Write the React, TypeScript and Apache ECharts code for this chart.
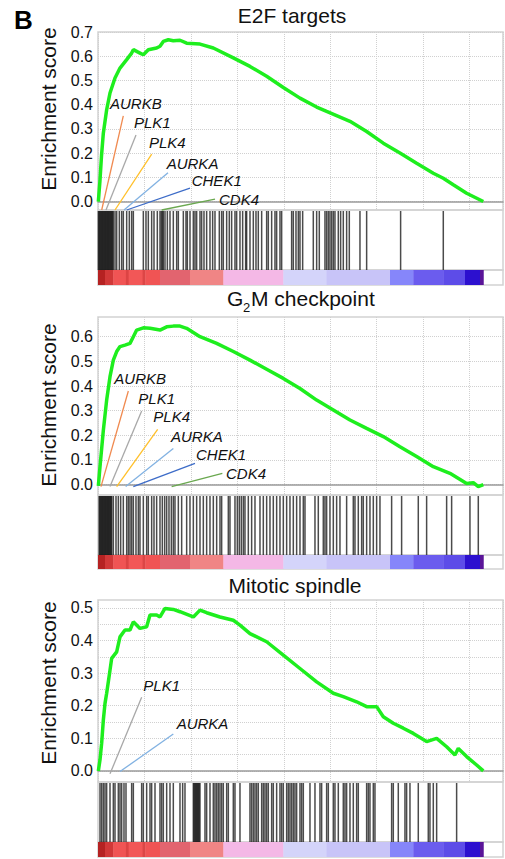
import React, { useEffect, useRef } from 'react';
import * as echarts from 'echarts';

const FONT = '"Liberation Sans", Arial, Helvetica, sans-serif';
const X_MAX = 21800;
const GREEN = '#1eee1e';

// ---------- Panel 1: E2F targets ----------
const e2fRank = [18, 100, 190, 287, 466, 646, 915, 1184, 1543, 1812, 1902, 2260, 2440, 2709, 3157, 3337, 3516, 3785, 4054, 4413, 4772, 5490, 6207, 7284, 8181, 9078, 9975, 10872, 11769, 12307, 13563, 14460, 15357, 16253, 17151, 18048, 18586, 19124, 19842, 20740];
const e2fES = [0, 0.08, 0.19, 0.282, 0.379, 0.448, 0.51, 0.551, 0.586, 0.613, 0.627, 0.613, 0.606, 0.627, 0.634, 0.641, 0.661, 0.668, 0.664, 0.666, 0.654, 0.65, 0.634, 0.593, 0.558, 0.517, 0.471, 0.427, 0.39, 0.372, 0.331, 0.289, 0.241, 0.2, 0.158, 0.117, 0.096, 0.069, 0.034, 0];
const e2fHits = [20, 60, 100, 140, 180, 220, 260, 300, 340, 380, 420, 460, 500, 540, 580, 620, 660, 700, 740, 780, 820, 915, 1005, 1148, 1274, 1364, 1543, 1686, 1812, 1902, 2440, 2583, 2709, 2888, 3014, 3193, 3337, 3408, 3470, 3516, 3606, 3732, 3875, 4054, 4234, 4324, 4593, 4736, 4808, 4952, 5131, 5221, 5310, 5490, 5579, 5705, 5848, 6028, 6171, 6297, 6530, 6656, 6745, 6925, 7068, 7194, 7373, 7463, 7642, 7786, 7947, 8001, 8181, 8360, 8504, 8629, 8809, 9078, 9168, 9347, 9526, 9616, 9795, 9885, 10423, 10513, 10657, 10783, 10872, 11016, 11589, 11769, 11912, 12217, 12307, 12397, 12486, 12576, 12666, 12755, 12935, 13060, 13204, 13383, 13527, 14101, 14460, 16289, 18586];
const e2fGenes = ['AURKB', 'PLK1', 'PLK4', 'AURKA', 'CHEK1', 'CDK4'];
const e2fGeneStart = [199, 431, 915, 1400, 1545, 3429];
const e2fGeneStartES = [-0.035, -0.035, -0.035, -0.035, -0.035, -0.035];
const e2fGeneEnd = [1362, 2046, 2891, 3768, 4952, 6298];
const e2fGeneEndES = [0.354, 0.275, 0.196, 0.119, 0.055, 0.01];
const e2fLabelRank = [646, 1938, 2745, 3698, 5044, 6513];
const e2fLabelES = [0.405, 0.326, 0.243, 0.159, 0.088, 0.01];

// ---------- Panel 2: G2M checkpoint ----------
const g2mRank = [18, 108, 287, 466, 646, 825, 1005, 1184, 1453, 1722, 1902, 2081, 2440, 2799, 3337, 3696, 4054, 4413, 4772, 5490, 6387, 7284, 8181, 9078, 9975, 10872, 11769, 12666, 13563, 14460, 15357, 16253, 17151, 18048, 18945, 19842, 20201, 20470, 20740];
const g2mES = [-0.005, 0.073, 0.22, 0.343, 0.438, 0.505, 0.54, 0.56, 0.566, 0.573, 0.6, 0.627, 0.636, 0.634, 0.627, 0.64, 0.643, 0.643, 0.634, 0.6, 0.573, 0.54, 0.505, 0.468, 0.431, 0.39, 0.343, 0.303, 0.262, 0.228, 0.195, 0.154, 0.114, 0.073, 0.046, 0.005, 0.008, -0.008, 0];
const g2mHits = [60, 100, 140, 180, 220, 260, 300, 340, 380, 420, 460, 500, 540, 580, 620, 660, 700, 740, 825, 969, 1094, 1220, 1363, 1543, 1633, 1722, 1812, 1902, 2045, 2171, 2260, 2440, 2619, 2709, 2888, 3014, 3157, 3337, 3462, 3588, 3696, 3821, 3947, 4054, 4144, 4324, 4503, 4772, 4951, 5131, 5310, 5490, 5669, 5848, 6028, 6207, 6387, 6566, 6656, 7015, 7104, 7373, 7499, 7606, 7714, 7822, 7911, 8091, 8270, 8450, 8719, 8898, 9078, 9257, 9436, 9616, 9795, 9975, 10154, 10333, 10513, 10692, 10872, 11051, 11141, 11679, 11858, 12127, 12217, 12307, 12486, 12666, 12845, 13024, 13383, 13742, 13832, 14011, 14191, 14280, 14460, 14639, 14819, 14998, 15177, 15805, 16343, 17240, 17689, 18766, 19035, 20021, 20470];
const g2mGenes = ['AURKB', 'PLK1', 'PLK4', 'AURKA', 'CHEK1', 'CDK4'];
const g2mGeneStart = [161, 646, 1005, 1489, 1902, 3965];
const g2mGeneStartES = [-0.008, -0.008, -0.008, -0.008, -0.008, -0.008];
const g2mGeneEnd = [1633, 2350, 3211, 4054, 5221, 6692];
const g2mGeneEndES = [0.38, 0.299, 0.224, 0.147, 0.086, 0.046];
const g2mLabelRank = [879, 2171, 2978, 3929, 5274, 6889];
const g2mLabelES = [0.431, 0.35, 0.276, 0.195, 0.123, 0.046];

// ---------- Panel 3: Mitotic spindle ----------
const mitRank = [18, 108, 197, 287, 377, 466, 646, 735, 1005, 1184, 1453, 1722, 1902, 2260, 2619, 2799, 3157, 3337, 3606, 4054, 4413, 5131, 5490, 5848, 6566, 7284, 7642, 8181, 9078, 9975, 10872, 11769, 12666, 13204, 13921, 14460, 14998, 15357, 15895, 16433, 16972, 17689, 18228, 18766, 19214, 19394, 19842, 20380, 20740];
const mitES = [0, 0.034, 0.085, 0.156, 0.207, 0.238, 0.309, 0.345, 0.365, 0.411, 0.432, 0.432, 0.457, 0.437, 0.442, 0.478, 0.478, 0.472, 0.498, 0.495, 0.488, 0.472, 0.493, 0.485, 0.472, 0.462, 0.447, 0.421, 0.396, 0.355, 0.314, 0.273, 0.238, 0.228, 0.212, 0.197, 0.197, 0.166, 0.146, 0.131, 0.115, 0.09, 0.1, 0.074, 0.049, 0.069, 0.044, 0.018, 0];
const mitHits = [108, 197, 287, 377, 466, 646, 825, 915, 1094, 1184, 1274, 1399, 1507, 1812, 1902, 2350, 2440, 2619, 2799, 2888, 3068, 3337, 3426, 3516, 3696, 3875, 4054, 4413, 4557, 4682, 5131, 5176, 5221, 5265, 5310, 5355, 5400, 5445, 5490, 5759, 5848, 6028, 6207, 6297, 6387, 6476, 6566, 6656, 6745, 6925, 7015, 7284, 7373, 7642, 8181, 8270, 8360, 8450, 8539, 8629, 8809, 8898, 8988, 9078, 9167, 9347, 9436, 9616, 9795, 9885, 9975, 10154, 10243, 10333, 10423, 10513, 10602, 10692, 10872, 10961, 11051, 11410, 11679, 11948, 12038, 12307, 12397, 12666, 12755, 12935, 13204, 13294, 13383, 13563, 13742, 13921, 14011, 14460, 14549, 14639, 14819, 14908, 15805, 15895, 16164, 16523, 16612, 16792, 17240, 17778, 17868, 18048, 18228, 19304];
const mitGenes = ['PLK1', 'AURKA'];
const mitGeneStart = [646, 1184];
const mitGeneStartES = [-0.009, -0.002];
const mitGeneEnd = [2350, 4054];
const mitGeneEndES = [0.226, 0.113];
const mitLabelRank = [2440, 4234];
const mitLabelES = [0.263, 0.144];

// ---------- Ranked-list metric colour bar (shared) ----------
const bandStart = [0, 377, 825, 1500, 1650, 2400, 2550, 3337, 4952, 6747, 9975, 12307, 15718, 16974, 18589, 19756, 20563];
const bandEnd = [377, 825, 1500, 1650, 2400, 2550, 3337, 4952, 6747, 9975, 12307, 15718, 16974, 18589, 19756, 20563, 20742];
const bandColor = ['#b52222', '#d13838', '#f05454', '#dc4444', '#f25757', '#dc4646', '#f05454', '#e2646f', '#f08585', '#f4b8e6', '#d4d4fa', '#c8c4f8', '#8686fa', '#6b5cee', '#5d4ce8', '#2c10cf', '#5a1598'];

const geneColor: Record<string, string> = {
  AURKB: '#f08a50',
  PLK1: '#a8a8a8',
  PLK4: '#ffc02a',
  AURKA: '#82b2e2',
  CHEK1: '#3d6cc8',
  CDK4: '#6aa84f',
};

const e2fTicks = [0, 0.1, 0.2, 0.3, 0.4, 0.5, 0.6, 0.7];
const g2mTicks = [0, 0.1, 0.2, 0.3, 0.4, 0.5, 0.6];
const mitTicks = [0, 0.1, 0.2, 0.3, 0.4, 0.5];
const mitGridTicks = [0, 0.05, 0.1, 0.15, 0.2, 0.25, 0.3, 0.35, 0.4, 0.45, 0.5];

const panels = [
  {
    rank: e2fRank, es: e2fES, hits: e2fHits,
    genes: e2fGenes, gs: e2fGeneStart, gse: e2fGeneStartES, ge: e2fGeneEnd, gee: e2fGeneEndES, lr: e2fLabelRank, le: e2fLabelES,
    labelTicks: e2fTicks, gridTicks: e2fTicks, yMin: -0.035, yMax: 0.7,
    curveTop: 32, curveH: 178, barTop: 210, barH: 60, colTop: 270, colH: 15,
  },
  {
    rank: g2mRank, es: g2mES, hits: g2mHits,
    genes: g2mGenes, gs: g2mGeneStart, gse: g2mGeneStartES, ge: g2mGeneEnd, gee: g2mGeneEndES, lr: g2mLabelRank, le: g2mLabelES,
    labelTicks: g2mTicks, gridTicks: g2mTicks, yMin: -0.042, yMax: 0.68,
    curveTop: 317, curveH: 178, barTop: 495, barH: 60, colTop: 555, colH: 14,
  },
  {
    rank: mitRank, es: mitES, hits: mitHits,
    genes: mitGenes, gs: mitGeneStart, gse: mitGeneStartES, ge: mitGeneEnd, gee: mitGeneEndES, lr: mitLabelRank, le: mitLabelES,
    labelTicks: mitTicks, gridTicks: mitGridTicks, yMin: -0.034, yMax: 0.524,
    curveTop: 600, curveH: 182, barTop: 782, barH: 60, colTop: 842, colH: 15,
  },
];

function buildOption() {
  const grid: any[] = [];
  const xAxis: any[] = [];
  const yAxis: any[] = [];
  const series: any[] = [];
  const LEFT = 98;
  const WIDTH = 405;
  const frame = { show: true, borderColor: '#d2d2d2', borderWidth: 1.5, backgroundColor: 'transparent' };
  const gridLine = { show: true, lineStyle: { color: '#d0d0d0', type: 'dotted', width: 1 } };

  panels.forEach((P, p) => {
    const g = p * 3;
    grid.push({ left: LEFT, top: P.curveTop, width: WIDTH, height: P.curveH, ...frame });
    grid.push({ left: LEFT, top: P.barTop, width: WIDTH, height: P.barH, ...frame });
    grid.push({ left: LEFT, top: P.colTop, width: WIDTH, height: P.colH, ...frame });

    xAxis.push({
      gridIndex: g, type: 'value', min: 0, max: X_MAX, interval: 2500,
      axisLabel: { show: false }, axisTick: { show: false },
      axisLine: { show: true, onZero: true, lineStyle: { color: '#9a9a9a', width: 1.5 } },
      splitLine: gridLine,
    });
    xAxis.push({ gridIndex: g + 1, type: 'value', min: 0, max: X_MAX, show: false });
    xAxis.push({ gridIndex: g + 2, type: 'value', min: 0, max: X_MAX, show: false });

    yAxis.push({
      gridIndex: g, type: 'value', min: P.yMin, max: P.yMax,
      axisLine: { show: false },
      axisTick: { show: false, customValues: P.gridTicks },
      axisLabel: {
        customValues: P.labelTicks,
        formatter: (v: number) => v.toFixed(1),
        fontSize: 16, color: '#111', margin: 5, fontFamily: FONT,
      },
      splitLine: gridLine,
    });
    yAxis.push({ gridIndex: g + 1, type: 'value', min: 0, max: 1, show: false });
    yAxis.push({ gridIndex: g + 2, type: 'value', min: 0, max: 1, show: false });

    // gene annotation lines + labels
    const names = P.genes;
    series.push({
      type: 'custom', xAxisIndex: g, yAxisIndex: g, z: 3, silent: true, clip: false,
      data: names.map((_, i) => [P.gs[i], P.gse[i], P.ge[i], P.gee[i], P.lr[i], P.le[i]]),
      renderItem: (params: any, api: any) => {
        const i = params.dataIndex;
        const a = api.coord([api.value(0), api.value(1)]);
        const b = api.coord([api.value(2), api.value(3)]);
        const t = api.coord([api.value(4), api.value(5)]);
        return {
          type: 'group',
          children: [
            { type: 'line', shape: { x1: a[0], y1: a[1], x2: b[0], y2: b[1] }, style: { stroke: geneColor[names[i]], lineWidth: 1.3 } },
            { type: 'text', x: t[0], y: t[1], style: { text: names[i], fontStyle: 'italic', fontSize: 15, fontFamily: FONT, fill: '#111', verticalAlign: 'middle', align: 'left' } },
          ],
        };
      },
    });

    // enrichment curve
    series.push({
      type: 'line', xAxisIndex: g, yAxisIndex: g, z: 5, silent: true,
      data: P.rank.map((r, i) => [r, P.es[i]]),
      showSymbol: false,
      lineStyle: { color: GREEN, width: 3.5 },
    });

    // hit barcode
    series.push({
      type: 'custom', xAxisIndex: g + 1, yAxisIndex: g + 1, silent: true,
      data: P.hits.map((r) => [r, 0]),
      renderItem: (params: any, api: any) => {
        const x = api.coord([api.value(0), 0])[0];
        const top = api.coord([0, 1])[1];
        const bot = api.coord([0, 0])[1];
        return { type: 'rect', shape: { x: x - 0.75, y: top + 1, width: 1.5, height: bot - top - 1 }, style: { fill: 'rgba(15,15,15,0.75)' } };
      },
    });

    // ranked list colour bar
    series.push({
      type: 'custom', xAxisIndex: g + 2, yAxisIndex: g + 2, silent: true,
      data: bandStart.map((s, i) => [s, bandEnd[i], i]),
      renderItem: (params: any, api: any) => {
        const a = api.coord([api.value(0), 1]);
        const b = api.coord([api.value(1), 0]);
        return { type: 'rect', shape: { x: a[0], y: a[1], width: b[0] - a[0] + 0.4, height: b[1] - a[1] }, style: { fill: bandColor[api.value(2)] } };
      },
    });
  });

  const txt = (text: string, x: number, y: number, extra: any = {}) => ({
    type: 'text', x, y, silent: true,
    style: { text, fontFamily: FONT, fontSize: 21, fill: '#111', align: 'center', verticalAlign: 'middle', ...extra },
  });

  const graphic = [
    txt('B', 14, 20, { fontSize: 26, fontWeight: 'bold', align: 'left', fill: '#000' }),
    txt('E2F targets', 292, 15),
    txt('G', 227, 298, { align: 'left' }),
    txt('2', 243, 307, { align: 'left', fontSize: 13 }),
    txt('M checkpoint', 251, 298, { align: 'left' }),
    txt('Mitotic spindle', 295, 585),
    { ...txt('Enrichment score', 48, 109), rotation: Math.PI / 2 },
    { ...txt('Enrichment score', 48, 405), rotation: Math.PI / 2 },
    { ...txt('Enrichment score', 48, 683), rotation: Math.PI / 2 },
  ];

  return {
    animation: false,
    backgroundColor: '#ffffff',
    textStyle: { fontFamily: FONT },
    grid, xAxis, yAxis, series, graphic,
  };
}

export default function App() {
  const ref = useRef<HTMLDivElement>(null);
  useEffect(() => {
    if (!ref.current) return;
    const chart = echarts.init(ref.current, null, { renderer: 'svg' });
    chart.setOption(buildOption() as any);
    return () => chart.dispose();
  }, []);
  return <div ref={ref} style={{ position: 'absolute', left: 0, top: 0, width: 505, height: 859 }} />;
}
